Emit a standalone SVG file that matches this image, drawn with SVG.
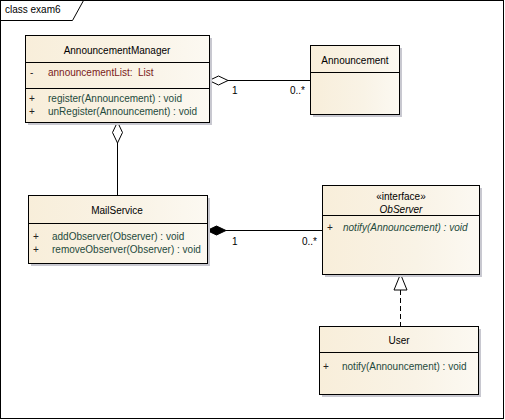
<svg xmlns="http://www.w3.org/2000/svg" width="505" height="420" viewBox="0 0 505 420">
<defs>
<linearGradient id="fill" x1="0" y1="0" x2="1" y2="0">
<stop offset="0" stop-color="#F8EEDA"/>
<stop offset="0.6" stop-color="#F9F3E6"/>
<stop offset="1" stop-color="#FCF9F2"/>
</linearGradient>
</defs>
<style>
text{font-family:"Liberation Sans",Arial,sans-serif;font-size:10px;}
.box{fill:url(#fill);stroke:#000;stroke-width:1;}
.shadow{fill:#C8C8D0;}
.sep{stroke:#000;stroke-width:1;}
.name{text-anchor:middle;fill:#000;}
.attr{fill:#7A1A1A;}
.op{fill:#1E4A3C;}
.vis{fill:#222;}
.line{stroke:#000;stroke-width:1;fill:none;}
.lbl{fill:#000;}
</style>
<rect x="0.5" y="0.5" width="503" height="418" fill="#fff" stroke="#000"/>
<path d="M0.5 20.5 H72.5 L83.5 0.5" fill="none" stroke="#000"/>
<text x="5" y="13">class exam6</text>

<g id="connectors">
<line class="line" x1="228" y1="80.5" x2="310" y2="80.5"/>
<polygon points="209,80.5 218.5,76 228,80.5 218.5,85" fill="#fff" stroke="#000"/>
<text class="lbl" x="232" y="94">1</text>
<text class="lbl" x="290" y="94">0..*</text>

<line class="line" x1="117.5" y1="143" x2="117.5" y2="195"/>
<polygon points="117.5,122 122.5,132.5 117.5,143 112.5,132.5" fill="#fff" stroke="#000"/>

<line class="line" x1="226" y1="230.5" x2="322" y2="230.5"/>
<polygon points="207,230.5 216.5,226 226,230.5 216.5,235" fill="#000" stroke="#000"/>
<text class="lbl" x="232" y="245">1</text>
<text class="lbl" x="302" y="245">0..*</text>

<line class="line" x1="400.5" y1="290" x2="400.5" y2="326" stroke-dasharray="5,3"/>
<polygon points="400.5,274 407,290 394,290" fill="#fff" stroke="#000"/>
</g>

<g id="AnnouncementManager">
<rect class="shadow" x="28" y="38" width="184" height="87"/>
<rect class="box" x="25.5" y="35.5" width="184" height="87"/>
<line class="sep" x1="25.5" y1="62.5" x2="209.5" y2="62.5"/>
<line class="sep" x1="25.5" y1="88.5" x2="209.5" y2="88.5"/>
<text class="name" x="117" y="54">AnnouncementManager</text>
<text class="vis" x="30" y="76">-</text>
<text class="attr" x="48" y="76" xml:space="preserve">announcementList:  List</text>
<text class="vis" x="29" y="102">+</text>
<text class="op" x="48" y="102">register(Announcement) : void</text>
<text class="vis" x="29" y="115">+</text>
<text class="op" x="48" y="115">unRegister(Announcement) : void</text>
</g>

<g id="Announcement">
<rect class="shadow" x="313" y="48" width="89" height="69"/>
<rect class="box" x="310.5" y="45.5" width="89" height="69"/>
<line class="sep" x1="310.5" y1="72.5" x2="399.5" y2="72.5"/>
<text class="name" x="355" y="64">Announcement</text>
</g>

<g id="MailService">
<rect class="shadow" x="31" y="198" width="179" height="68"/>
<rect class="box" x="28.5" y="195.5" width="179" height="68"/>
<line class="sep" x1="28.5" y1="223.5" x2="207.5" y2="223.5"/>
<text class="name" x="117" y="214">MailService</text>
<text class="vis" x="33" y="240">+</text>
<text class="op" x="52" y="240">addObserver(Observer) : void</text>
<text class="vis" x="33" y="253">+</text>
<text class="op" x="52" y="253">removeObserver(Observer) : void</text>
</g>

<g id="ObServer">
<rect class="shadow" x="325" y="188" width="157" height="89"/>
<rect class="box" x="322.5" y="185.5" width="157" height="89"/>
<line class="sep" x1="322.5" y1="215.5" x2="479.5" y2="215.5"/>
<text class="name" x="401" y="200">«interface»</text>
<text class="name" x="401" y="213" font-style="italic">ObServer</text>
<text class="vis" x="327" y="231">+</text>
<text class="op" x="343" y="231" font-style="italic">notify(Announcement) : void</text>
</g>

<g id="User">
<rect class="shadow" x="322" y="329" width="159" height="68"/>
<rect class="box" x="319.5" y="326.5" width="159" height="68"/>
<line class="sep" x1="319.5" y1="352.5" x2="478.5" y2="352.5"/>
<text class="name" x="399" y="344">User</text>
<text class="vis" x="323" y="370">+</text>
<text class="op" x="342" y="370">notify(Announcement) : void</text>
</g>
</svg>
